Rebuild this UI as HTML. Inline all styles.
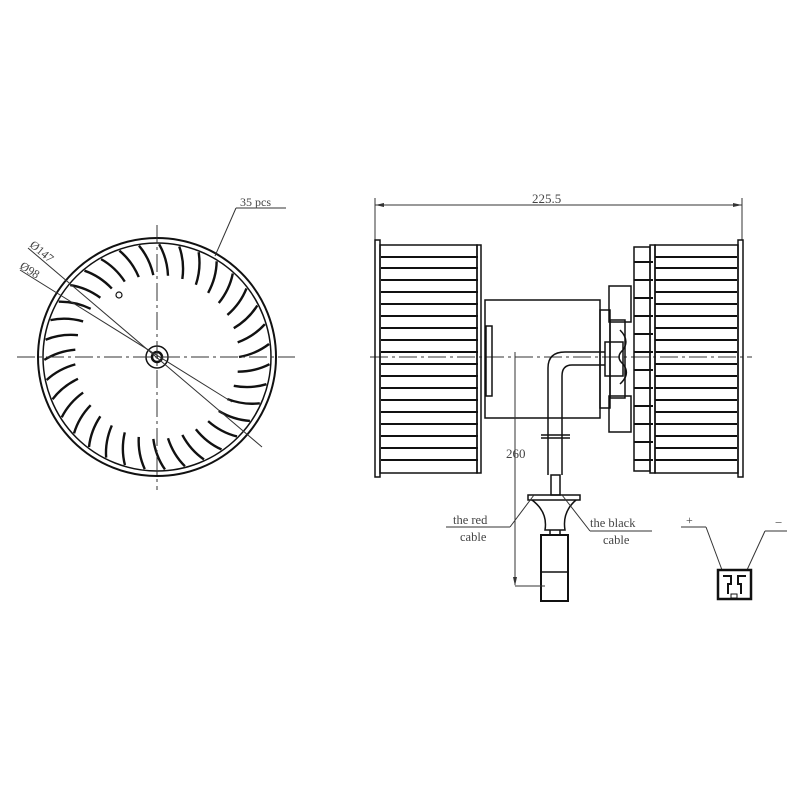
<!DOCTYPE html>
<html><head><style>body{margin:0;background:#fff}svg{display:block}text{font-family:"Liberation Serif",serif;fill:#444}</style></head>
<body>
<svg width="800" height="800" viewBox="0 0 800 800" xmlns="http://www.w3.org/2000/svg">
<defs>
<path id="bl" d="M82,0 Q99,-3 112,-13" fill="none" stroke="#111" stroke-width="2.4"/>
<line id="hl" x1="0" y1="0" x2="97" y2="0" stroke="#111" stroke-width="2"/>
<line id="hr" x1="0" y1="0" x2="82" y2="0" stroke="#111" stroke-width="2"/>
<line id="hc" x1="0" y1="0" x2="19" y2="0" stroke="#111" stroke-width="2"/>
</defs>
<g fill="none" stroke="#111">
<circle cx="157" cy="357" r="119" stroke-width="2"/>
<circle cx="157" cy="357" r="114" stroke-width="1.5"/>
<circle cx="157" cy="357" r="11" stroke-width="1.5"/>
<circle cx="157" cy="357" r="5" stroke-width="2.5"/>
<circle cx="119" cy="295" r="3" stroke-width="1.2"/>
</g>
<g transform="translate(157 357)">
<use href="#bl" transform="rotate(0)"/><use href="#bl" transform="rotate(10.29)"/><use href="#bl" transform="rotate(20.57)"/><use href="#bl" transform="rotate(30.86)"/><use href="#bl" transform="rotate(41.14)"/><use href="#bl" transform="rotate(51.43)"/><use href="#bl" transform="rotate(61.71)"/><use href="#bl" transform="rotate(72)"/><use href="#bl" transform="rotate(82.29)"/><use href="#bl" transform="rotate(92.57)"/><use href="#bl" transform="rotate(102.86)"/><use href="#bl" transform="rotate(113.14)"/><use href="#bl" transform="rotate(123.43)"/><use href="#bl" transform="rotate(133.71)"/><use href="#bl" transform="rotate(144)"/><use href="#bl" transform="rotate(154.29)"/><use href="#bl" transform="rotate(164.57)"/><use href="#bl" transform="rotate(174.86)"/><use href="#bl" transform="rotate(185.14)"/><use href="#bl" transform="rotate(195.43)"/><use href="#bl" transform="rotate(205.71)"/><use href="#bl" transform="rotate(216)"/><use href="#bl" transform="rotate(226.29)"/><use href="#bl" transform="rotate(236.57)"/><use href="#bl" transform="rotate(246.86)"/><use href="#bl" transform="rotate(257.14)"/><use href="#bl" transform="rotate(267.43)"/><use href="#bl" transform="rotate(277.71)"/><use href="#bl" transform="rotate(288)"/><use href="#bl" transform="rotate(298.29)"/><use href="#bl" transform="rotate(308.57)"/><use href="#bl" transform="rotate(318.86)"/><use href="#bl" transform="rotate(329.14)"/><use href="#bl" transform="rotate(339.43)"/><use href="#bl" transform="rotate(349.71)"/>
</g>
<g stroke="#333" stroke-width="1" fill="none">
<line x1="17" y1="357" x2="295" y2="357" stroke-dasharray="18 4 3 4"/>
<line x1="157" y1="225" x2="157" y2="490" stroke-dasharray="18 4 3 4"/>
<line x1="28" y1="248" x2="262" y2="447"/>
<line x1="20" y1="270" x2="232" y2="402"/>
<line x1="236" y1="208" x2="286" y2="208"/>
<line x1="236" y1="208" x2="215" y2="256"/>
</g>
<text x="240" y="206" font-size="12">35 pcs</text>
<text x="0" y="0" font-size="12" transform="translate(29 246) rotate(40)">Ø147</text>
<text x="0" y="0" font-size="12" transform="translate(19 268) rotate(32)">Ø98</text>

<g stroke="#333" stroke-width="1" fill="none">
<line x1="375" y1="205" x2="742" y2="205"/>
<line x1="375" y1="198" x2="375" y2="240"/>
<line x1="742" y1="198" x2="742" y2="240"/>
<line x1="370" y1="357" x2="752" y2="357" stroke-dasharray="18 4 3 4"/>
</g>
<path d="M375,205 l9,-2 v4z M742,205 l-9,-2 v4z" fill="#333"/>
<text x="532" y="203" font-size="13">225.5</text>

<g stroke="#111" stroke-width="1.5" fill="none">
<rect x="375" y="240" width="5" height="237"/>
<rect x="380" y="245" width="97" height="228"/>
<rect x="477" y="245" width="4" height="228"/>
<rect x="738" y="240" width="5" height="237"/>
<rect x="655" y="245" width="83" height="228"/>
<rect x="650" y="245" width="5" height="228"/>
<rect x="634" y="247" width="16" height="224"/>
<rect x="485" y="300" width="115" height="118"/>
<rect x="486" y="326" width="6" height="70"/>
<rect x="600" y="310" width="10" height="98"/>
<rect x="610" y="320" width="15" height="78"/>
<rect x="605" y="342" width="18" height="34"/>
<rect x="609" y="286" width="22" height="36"/>
<rect x="609" y="396" width="22" height="36"/>
<path d="M620,330 q10,10 3,20 q-8,7 0,14 q8,10 -3,20"/>
</g>
<g transform="translate(381 0)">
<use href="#hl" y="257"/><use href="#hl" y="268"/><use href="#hl" y="280"/><use href="#hl" y="292"/><use href="#hl" y="304"/><use href="#hl" y="316"/><use href="#hl" y="328"/><use href="#hl" y="340"/><use href="#hl" y="352"/><use href="#hl" y="364"/><use href="#hl" y="376"/><use href="#hl" y="388"/><use href="#hl" y="400"/><use href="#hl" y="412"/><use href="#hl" y="424"/><use href="#hl" y="436"/><use href="#hl" y="448"/><use href="#hl" y="460"/>
</g>
<g transform="translate(655 0)">
<use href="#hr" y="257"/><use href="#hr" y="268"/><use href="#hr" y="280"/><use href="#hr" y="292"/><use href="#hr" y="304"/><use href="#hr" y="316"/><use href="#hr" y="328"/><use href="#hr" y="340"/><use href="#hr" y="352"/><use href="#hr" y="364"/><use href="#hr" y="376"/><use href="#hr" y="388"/><use href="#hr" y="400"/><use href="#hr" y="412"/><use href="#hr" y="424"/><use href="#hr" y="436"/><use href="#hr" y="448"/><use href="#hr" y="460"/>
</g>
<g transform="translate(634 0)">
<use href="#hc" y="262"/><use href="#hc" y="280"/><use href="#hc" y="298"/><use href="#hc" y="316"/><use href="#hc" y="334"/><use href="#hc" y="352"/><use href="#hc" y="370"/><use href="#hc" y="388"/><use href="#hc" y="406"/><use href="#hc" y="424"/><use href="#hc" y="442"/><use href="#hc" y="460"/>
</g>

<g stroke="#111" stroke-width="1.5" fill="none">
<path d="M605,352 H565 Q548,352 548,368 V475"/>
<path d="M605,365 H572 Q562,365 562,376 V475"/>
<line x1="541" y1="435" x2="570" y2="435"/><line x1="541" y1="438" x2="570" y2="438"/>
<rect x="551" y="475" width="9" height="20"/>
<rect x="528" y="495" width="52" height="5"/>
<path d="M532,500 Q548,512 545,530 H565 Q562,512 576,500"/>
<line x1="550" y1="530" x2="550" y2="535"/><line x1="560" y1="530" x2="560" y2="535"/>
<rect x="541" y="535" width="27" height="66" stroke-width="2"/>
<line x1="541" y1="572" x2="568" y2="572"/>
</g>
<g stroke="#333" stroke-width="1" fill="none">
<line x1="515" y1="352" x2="515" y2="585"/>
<line x1="515" y1="586" x2="545" y2="586"/>
<line x1="446" y1="527" x2="510" y2="527"/><line x1="510" y1="527" x2="534" y2="495"/>
<line x1="590" y1="531" x2="652" y2="531"/><line x1="590" y1="531" x2="562" y2="495"/>
<line x1="681" y1="527" x2="706" y2="527"/><line x1="706" y1="527" x2="722" y2="570"/>
<line x1="787" y1="531" x2="765" y2="531"/><line x1="765" y1="531" x2="747" y2="570"/>
</g>
<path d="M515,586 l-2,-9 h4z" fill="#333"/>
<text x="506" y="458" font-size="13">260</text>
<text x="453" y="524" font-size="12.5">the red</text>
<text x="460" y="541" font-size="12.5">cable</text>
<text x="590" y="527" font-size="12.5">the black</text>
<text x="603" y="544" font-size="12.5">cable</text>
<text x="686" y="524" font-size="12">+</text>
<text x="775" y="527" font-size="13">−</text>
<g stroke="#111" fill="none">
<rect x="718" y="570" width="33" height="29" stroke-width="2.5"/>
<path d="M723,576 h8 v8 h-3 v10 M746,576 h-8 v8 h3 v10" stroke-width="2"/>
<rect x="731" y="594" width="6" height="4" stroke-width="1"/>
</g>
</svg>
</body></html>
